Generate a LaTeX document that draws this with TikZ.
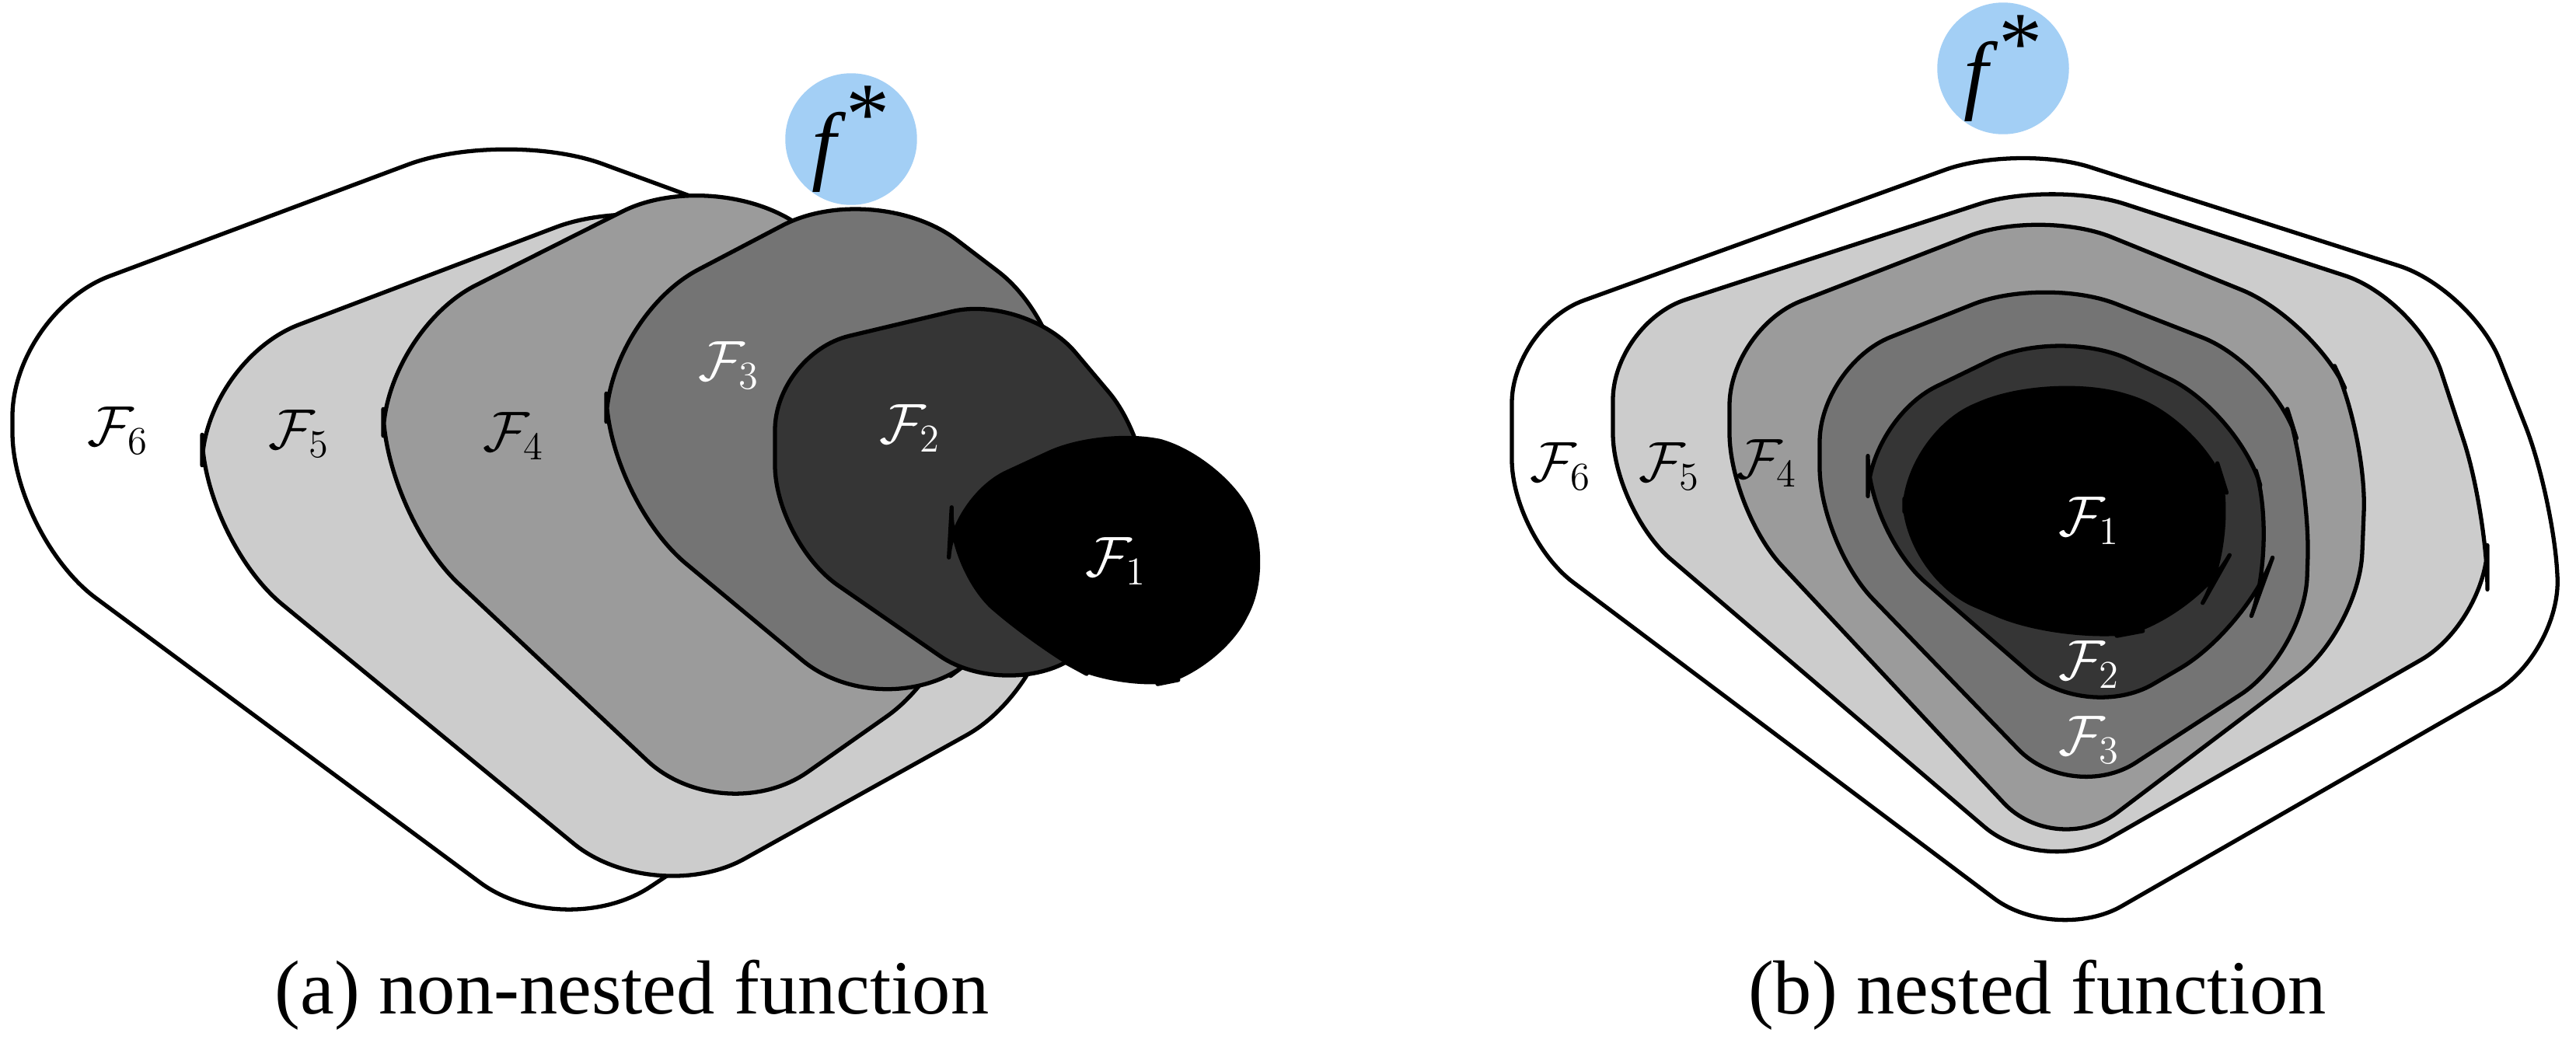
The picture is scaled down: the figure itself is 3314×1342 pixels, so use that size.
\documentclass[tikz,border=0pt]{standalone}
\usepackage{fontspec}
\setmainfont{Liberation Serif}
\begin{document}
\begin{tikzpicture}[x=0.01cm,y=-0.01cm,
  sh/.style={draw=black,line width=1.5pt,line join=round},
  big/.style={sh,rounded corners=38pt},
  mid/.style={sh,rounded corners=28pt},
  sml/.style={sh,rounded corners=22pt},
  lab/.style={font=\fontsize{20}{24}\selectfont},
  wlab/.style={lab,text=white},
  captxt/.style={font=\fontsize{28}{32}\selectfont},
  fstar/.style={circle,fill=fblue,minimum size=1.65cm,inner sep=0pt,font=\fontsize{32}{36}\selectfont}]
\definecolor{fblue}{HTML}{A3CFF5}
\definecolor{g5}{HTML}{CCCCCC}
\definecolor{g4}{HTML}{9B9B9B}
\definecolor{g3}{HTML}{747474}
\definecolor{g2}{HTML}{353535}
\useasboundingbox (0,0) rectangle (3314,1342);
\fill[white] (0,0) rectangle (3314,1342);
% ---------- (a) non-nested ----------
\draw[big,fill=white] (16,402) -- (650,165) -- (1100,330) -- (1200,900) -- (725,1215) -- (16,690) -- cycle;
\draw[big,fill=g5] (260,465) -- (840,245) -- (1360,500) -- (1360,881) -- (841,1170) -- (260,693) -- cycle;
\draw[big,fill=g4] (493,427) -- (920,212) -- (1250,450) -- (1250,845) -- (930,1070) -- (493,660) -- cycle;
\draw[big,fill=g3] (780,409) -- (1125,228) -- (1390,430) -- (1330,790) -- (1135,935) -- (780,640) -- cycle;
\draw[mid,fill=g2] (997,455) -- (1320,378) -- (1490,580) -- (1460,800) -- (1290,900) -- (997,697) -- cycle;
\draw[sml,fill=black] (1225,640) -- (1420,550) -- (1565,585) -- (1640,720) -- (1565,865) -- (1440,890) -- (1330,830) -- (1220,730) -- cycle;
\node[lab]  (a6) at (152,554) {$\mathcal{F}_6$};
\node[lab]  (a5) at (385,558) {$\mathcal{F}_5$};
\node[lab]  (a4) at (661,561) {$\mathcal{F}_4$};
\node[wlab] (a3) at (938,470) {$\mathcal{F}_3$};
\node[wlab] (a2) at (1171,551) {$\mathcal{F}_2$};
\node[wlab] (a1) at (1436,722) {$\mathcal{F}_1$};
\node[fstar] (fa) at (1095,179) {\textit{f}\raisebox{0.35em}{*}};
\node[captxt] (capa) at (813,1280) {(a) non-nested function};
% ---------- (b) nested ----------
\draw[mid,fill=white] (1945,420) -- (2595,185) -- (3180,372) -- (3285,640) -- (3295,841) -- (2644,1215) -- (1945,690) -- cycle;
\draw[mid,fill=g5] (2075,416) -- (2640,232) -- (3110,385) -- (3200,660) -- (3200,800) -- (2628,1128) -- (2075,656) -- cycle;
\draw[mid,fill=g4] (2225,423) -- (2625,268) -- (2975,410) -- (3045,560) -- (3035,810) -- (2645,1105) -- (2225,656) -- cycle;
\draw[mid,fill=g3] (2341,470) -- (2630,355) -- (2925,470) -- (2972,620) -- (2965,840) -- (2665,1035) -- (2341,700) -- cycle;
\draw[mid,fill=g2] (2403,540) -- (2650,420) -- (2880,530) -- (2930,700) -- (2890,810) -- (2685,930) -- (2403,685) -- cycle;
\draw[mid,fill=black] (2450,560) -- (2640,480) -- (2835,540) -- (2882,690) -- (2820,800) -- (2660,830) -- (2450,740) -- cycle;
\node[lab]  (b6) at (2008,600) {$\mathcal{F}_6$};
\node[lab]  (b5) at (2148,600) {$\mathcal{F}_5$};
\node[lab]  (b4) at (2273,596) {$\mathcal{F}_4$};
\node[wlab] (b1) at (2688,670) {$\mathcal{F}_1$};
\node[wlab] (b2) at (2688,855) {$\mathcal{F}_2$};
\node[wlab] (b3) at (2688,952) {$\mathcal{F}_3$};
\node[fstar] (fb) at (2577,88) {\textit{f}\raisebox{0.35em}{*}};
\node[captxt] (capb) at (2621,1280) {(b) nested function};
\end{tikzpicture}
\end{document}
